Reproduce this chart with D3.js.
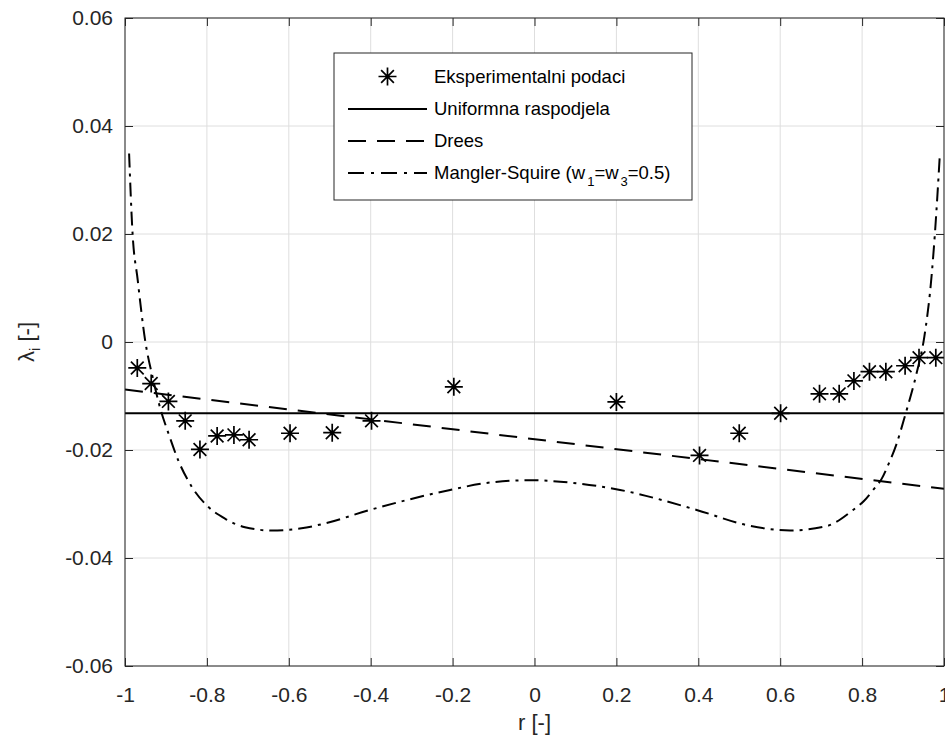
<!DOCTYPE html>
<html>
<head>
<meta charset="utf-8">
<script src="https://cdn.jsdelivr.net/npm/d3@7"></script>
<style>
  html, body { margin: 0; padding: 0; background: #fff; }
  svg { display: block; font-family: "Liberation Sans", Arial, sans-serif; }
</style>
</head>
<body>
<svg id="chart" width="945" height="751"></svg>
<script>
// ---------- data ----------
const xTicks = [-1, -0.8, -0.6, -0.4, -0.2, 0, 0.2, 0.4, 0.6, 0.8, 1];
const xTickLabels = ["-1", "-0.8", "-0.6", "-0.4", "-0.2", "0", "0.2", "0.4", "0.6", "0.8", "1"];
const yTicks = [0.06, 0.04, 0.02, 0, -0.02, -0.04, -0.06];
const yTickLabels = ["0.06", "0.04", "0.02", "0", "-0.02", "-0.04", "-0.06"];

// Eksperimentalni podaci
const rExp = [-0.970, -0.936, -0.894, -0.853, -0.817, -0.775, -0.734, -0.697, -0.597, -0.494, -0.398, -0.197,
              0.200, 0.403, 0.500, 0.601, 0.696, 0.744, 0.780, 0.818, 0.858, 0.905, 0.939, 0.980];
const lamExp = [-0.0048, -0.0077, -0.0110, -0.0146, -0.0199, -0.0174, -0.0172, -0.0181, -0.0169, -0.0168, -0.0146, -0.0083,
                -0.0111, -0.0210, -0.0169, -0.0132, -0.0096, -0.0096, -0.0072, -0.0055, -0.0055, -0.0044, -0.0029, -0.0029];

// Uniformna raspodjela
const rUni = [-1, 1];
const lamUni = [-0.0132, -0.0132];

// Drees
const rDrees = [-1, 1];
const lamDrees = [-0.0088, -0.0272];

// Mangler-Squire (w1=w3=0.5)
const rMS = [-0.990, -0.982, -0.969, -0.951, -0.931, -0.915, -0.894, -0.870, -0.837, -0.797, -0.756, -0.707,
             -0.642, -0.569, -0.512, -0.402, -0.206, -0.117, -0.011, 0.095, 0.209, 0.396, 0.518, 0.624,
             0.713, 0.778, 0.805, 0.827, 0.848, 0.864, 0.884, 0.905, 0.933, 0.952, 0.970, 0.978, 0.990];
const lamMS = [0.0349, 0.0207, 0.0115, 0.0004, -0.0070, -0.0120, -0.0169, -0.0219, -0.0268, -0.0305, -0.0327, -0.0343,
               -0.0349, -0.0345, -0.0336, -0.0311, -0.0274, -0.0261, -0.0256, -0.0261, -0.0274, -0.0311, -0.0339, -0.0349,
               -0.0341, -0.0311, -0.0294, -0.0274, -0.0253, -0.0227, -0.0189, -0.0136, -0.0058, 0.0010, 0.0125, 0.0203, 0.0349];

// ---------- layout ----------
const L = 125, R = 944, T = 18, B = 666;
const W = R - L, H = B - T;
const ink = "#262626";

const svg = d3.select("#chart");
const x = d3.scaleLinear().domain([-1, 1]).range([L, R]);
const y = d3.scaleLinear().domain([-0.06, 0.06]).range([B, T]);

svg.append("rect").attr("x", L).attr("y", T).attr("width", W).attr("height", H).attr("fill", "#fff");

// grid
const grid = svg.append("g").attr("class", "grid");
grid.selectAll("line.gx").data(xTicks).enter().append("line")
  .attr("x1", d => x(d)).attr("x2", d => x(d)).attr("y1", T).attr("y2", B)
  .attr("stroke", "#dedede").attr("stroke-width", 1);
grid.selectAll("line.gy").data(yTicks).enter().append("line")
  .attr("x1", L).attr("x2", R).attr("y1", d => y(d)).attr("y2", d => y(d))
  .attr("stroke", "#dedede").attr("stroke-width", 1);

// clip
svg.append("clipPath").attr("id", "clip").append("rect")
  .attr("x", L).attr("y", T).attr("width", W).attr("height", H);

const plot = svg.append("g").attr("clip-path", "url(#clip)");
const line = d3.line().x(d => x(d[0])).y(d => y(d[1]));
const smooth = d3.line().x(d => x(d[0])).y(d => y(d[1])).curve(d3.curveMonotoneX);

const DASH = "18,11";
const DASHDOT = "14,6,3,6";

plot.append("path").datum(d3.zip(rUni, lamUni)).attr("d", line)
  .attr("fill", "none").attr("stroke", "#000").attr("stroke-width", 2);
plot.append("path").datum(d3.zip(rDrees, lamDrees)).attr("d", line)
  .attr("fill", "none").attr("stroke", "#000").attr("stroke-width", 2).attr("stroke-dasharray", DASH);
plot.append("path").datum(d3.zip(rMS, lamMS)).attr("d", smooth)
  .attr("fill", "none").attr("stroke", "#000").attr("stroke-width", 2).attr("stroke-dasharray", DASHDOT);

// star marker
function star(g, cx, cy, r) {
  const d = r * 0.7071;
  const p = `M${cx - r},${cy}L${cx + r},${cy}M${cx},${cy - r}L${cx},${cy + r}` +
            `M${cx - d},${cy - d}L${cx + d},${cy + d}M${cx - d},${cy + d}L${cx + d},${cy - d}`;
  g.append("path").attr("d", p).attr("stroke", "#000").attr("stroke-width", 1.7).attr("fill", "none");
}
const stars = plot.append("g");
d3.zip(rExp, lamExp).forEach(d => star(stars, x(d[0]), y(d[1]), 9));

// axes (ticks inward)
const xAxis = d3.axisBottom(x).tickValues(xTicks).tickFormat((d, i) => xTickLabels[i])
  .tickSizeInner(-8).tickSizeOuter(0).tickPadding(21);
const yAxis = d3.axisLeft(y).tickValues(yTicks).tickFormat((d, i) => yTickLabels[i])
  .tickSizeInner(-8).tickSizeOuter(0).tickPadding(12);
const xTop = d3.axisTop(x).tickValues(xTicks).tickFormat("").tickSizeInner(-8).tickSizeOuter(0);
const yRight = d3.axisRight(y).tickValues(yTicks).tickFormat("").tickSizeInner(-8).tickSizeOuter(0);

function styleAxis(g) {
  g.select(".domain").remove();
  g.selectAll(".tick line").attr("stroke", ink).attr("stroke-width", 1);
  g.selectAll(".tick text").attr("fill", ink).attr("font-size", 21)
    .attr("font-family", "'Liberation Sans', Arial, sans-serif");
}
svg.append("g").attr("transform", `translate(0,${B})`).call(xAxis).call(styleAxis);
svg.append("g").attr("transform", `translate(${L},0)`).call(yAxis).call(styleAxis);
svg.append("g").attr("transform", `translate(0,${T})`).call(xTop).call(styleAxis);
svg.append("g").attr("transform", `translate(${R},0)`).call(yRight).call(styleAxis);

// frame
svg.append("rect").attr("x", L).attr("y", T).attr("width", W).attr("height", H)
  .attr("fill", "none").attr("stroke", ink).attr("stroke-width", 1);

// axis labels
svg.append("text").attr("x", (L + R) / 2).attr("y", 730).attr("text-anchor", "middle")
  .attr("font-size", 22).attr("fill", ink).text("r [-]");
const yl = svg.append("text").attr("transform", `translate(34,${(T + B) / 2}) rotate(-90)`)
  .attr("text-anchor", "middle").attr("font-size", 22).attr("fill", ink);
yl.append("tspan").text("λ");
yl.append("tspan").attr("dy", 6).attr("font-size", 15).text("i");
yl.append("tspan").attr("dy", -6).text(" [-]");

// legend
const lg = svg.append("g");
lg.append("rect").attr("x", 334).attr("y", 53).attr("width", 358).attr("height", 147)
  .attr("fill", "#fff").attr("stroke", ink).attr("stroke-width", 1);
const rows = [76.5, 109, 141, 173];
const lx1 = 348, lx2 = 427, tx = 434, fs = 18.5;
star(lg, (lx1 + lx2) / 2, rows[0], 9);
lg.append("line").attr("x1", lx1).attr("x2", lx2).attr("y1", rows[1]).attr("y2", rows[1])
  .attr("stroke", "#000").attr("stroke-width", 2);
lg.append("line").attr("x1", lx1).attr("x2", lx2).attr("y1", rows[2]).attr("y2", rows[2])
  .attr("stroke", "#000").attr("stroke-width", 2).attr("stroke-dasharray", DASH);
lg.append("line").attr("x1", lx1).attr("x2", lx2).attr("y1", rows[3]).attr("y2", rows[3])
  .attr("stroke", "#000").attr("stroke-width", 2).attr("stroke-dasharray", "16,7,3,7");
const labels = ["Eksperimentalni podaci", "Uniformna raspodjela", "Drees"];
labels.forEach((t, i) => {
  lg.append("text").attr("x", tx).attr("y", rows[i]).attr("dy", "0.35em")
    .attr("font-size", fs).attr("fill", "#000").text(t);
});
const ms = lg.append("text").attr("x", tx).attr("y", rows[3]).attr("dy", "0.35em")
  .attr("font-size", fs).attr("fill", "#000");
ms.append("tspan").text("Mangler-Squire (w");
ms.append("tspan").attr("dx", 2).attr("dy", 7).attr("font-size", 13).text("1");
ms.append("tspan").attr("dy", -7).text("=w");
ms.append("tspan").attr("dx", 2).attr("dy", 7).attr("font-size", 13).text("3");
ms.append("tspan").attr("dy", -7).text("=0.5)");
</script>
</body>
</html>
